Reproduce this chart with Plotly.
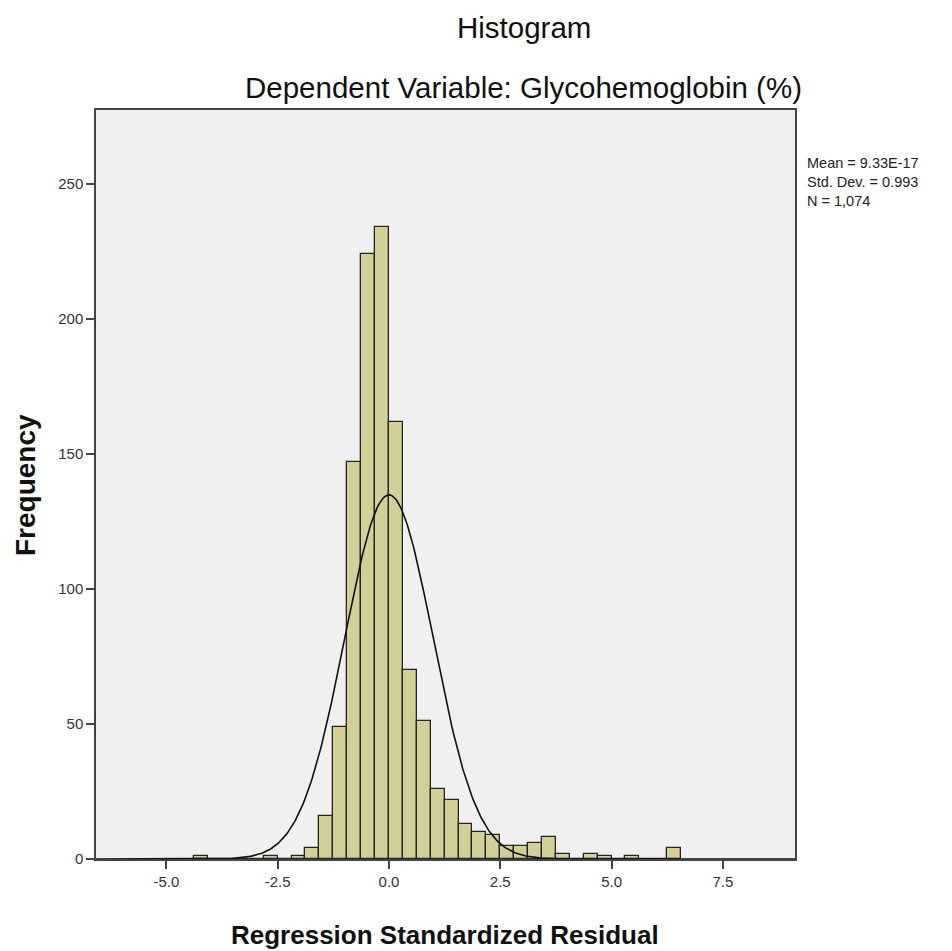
import plotly.graph_objects as go
import numpy as np

# ---- data ----
bin_width = 0.3125
bin_index = list(range(-14, 21))  # bin k spans [k*w, (k+1)*w]
counts = [1, 0, 0, 0, 0, 1, 0, 1, 4, 16, 49, 147, 224, 234,
          162, 70, 51, 26, 22, 13, 10, 9, 5, 5, 6, 8, 2, 0, 2, 1, 0, 1, 0, 0, 4]
mean_val = 9.33e-17
std_val = 0.993
n_val = 1074
x_ticks = [-5.0, -2.5, 0.0, 2.5, 5.0, 7.5]
x_tick_labels = ["-5.0", "-2.5", "0.0", "2.5", "5.0", "7.5"]
y_ticks = [0, 50, 100, 150, 200, 250]

centers = [(k + 0.5) * bin_width for k in bin_index]

# Normal curve from displayed statistics
xs = np.linspace(-6.6, 9.2, 600)
ys = n_val * bin_width * np.exp(-0.5 * ((xs - mean_val) / std_val) ** 2) / (std_val * np.sqrt(2 * np.pi))

fig = go.Figure()
fig.add_trace(go.Bar(x=centers, y=counts, width=bin_width,
                     marker=dict(color="#D3CF98", line=dict(color="#262626", width=1.3)),
                     showlegend=False, hoverinfo="skip"))
fig.add_trace(go.Scatter(x=xs, y=ys, mode="lines", line=dict(color="#111111", width=1.6),
                         showlegend=False, hoverinfo="skip"))

FONT = "Liberation Sans, Arial, sans-serif"
tick_font = dict(family=FONT, size=15, color="#333333")
fig.update_layout(
    width=952, height=951,
    margin=dict(l=96, r=157, t=110, b=92),
    paper_bgcolor="white", plot_bgcolor="#F0F0F0",
    bargap=0,
    xaxis=dict(range=[-6.58, 9.12], tickvals=x_ticks, ticktext=x_tick_labels,
               ticks="outside", ticklen=8, tickcolor="#444444", tickwidth=1.5,
               showline=True, linecolor="#444444", linewidth=1.5, mirror=True,
               showgrid=False, zeroline=False, tickfont=tick_font),
    yaxis=dict(range=[0, 277.4], tickvals=y_ticks,
               ticks="outside", ticklen=8, tickcolor="#444444", tickwidth=1.5,
               showline=True, linecolor="#444444", linewidth=1.5, mirror=True,
               showgrid=False, zeroline=False, tickfont=tick_font),
    font=dict(family=FONT),
)

title_font = dict(family=FONT, size=29.5, color="#111111")
bold_font_x = dict(family=FONT, size=26, color="#111111")
bold_font_y = dict(family=FONT, size=28, color="#111111")
fig.add_annotation(text="Histogram", xref="paper", yref="paper", x=0.6123, y=1.1108,
                   showarrow=False, font=title_font, xanchor="center", yanchor="middle")
fig.add_annotation(text="Dependent Variable: Glycohemoglobin (%)", xref="paper", yref="paper",
                   x=0.6123, y=1.0307, showarrow=False, font=title_font, xanchor="center", yanchor="middle")
fig.add_annotation(text="<b>Regression Standardized Residual</b>", xref="paper", yref="paper",
                   x=0.4986, y=-0.1015, showarrow=False, font=bold_font_x, xanchor="center", yanchor="middle")
fig.add_annotation(text="<b>Frequency</b>", xref="paper", yref="paper", x=-0.1016, y=0.4993,
                   textangle=-90, showarrow=False, font=bold_font_y, xanchor="center", yanchor="middle")
fig.add_annotation(text=f"Mean = 9.33E-17<br>Std. Dev. = {std_val:.3f}<br>N = {n_val:,}",
                   xref="paper", yref="paper", x=1.0143, y=0.9426, showarrow=False, align="left",
                   xanchor="left", yanchor="top",
                   font=dict(family=FONT, size=14.5, color="#222222"))

fig.write_html("out.html", config={"displayModeBar": False},
               post_script="document.body.style.margin='0px';document.body.style.overflow='hidden';")
